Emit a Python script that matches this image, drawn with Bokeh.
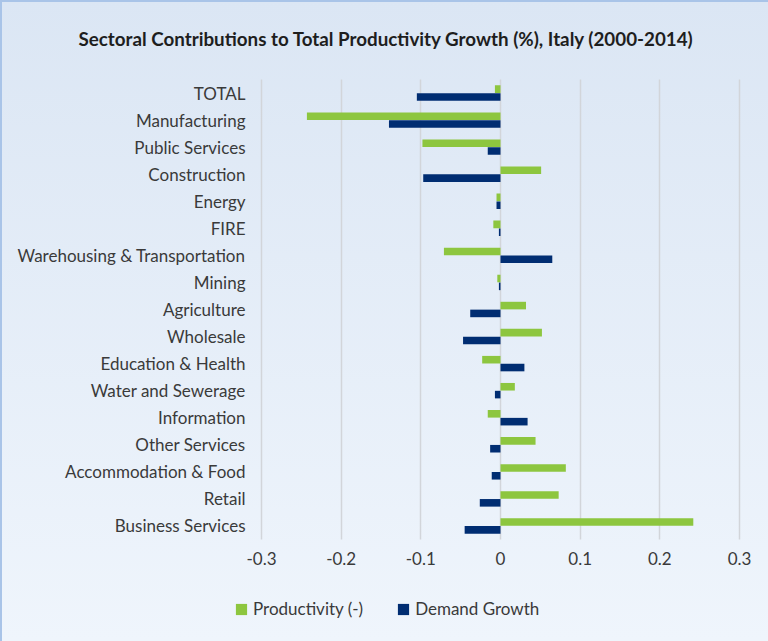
from bokeh.plotting import figure
from bokeh.models import Legend, LegendItem, FixedTicker, Label, Range1d, ColumnDataSource
from bokeh.transform import dodge
from bokeh.embed import file_html
from bokeh.resources import INLINE

title_text = "Sectoral Contributions to Total Productivity Growth (%), Italy (2000-2014)"

categories = ["TOTAL", "Manufacturing", "Public Services", "Construction", "Energy", "FIRE",
              "Warehousing & Transportation", "Mining", "Agriculture", "Wholesale",
              "Education & Health", "Water and Sewerage", "Information", "Other Services",
              "Accommodation & Food", "Retail", "Business Services"]
productivity = [-0.007, -0.243, -0.098, 0.051, -0.005, -0.009, -0.071, -0.004, 0.032, 0.052,
                -0.023, 0.018, -0.016, 0.044, 0.082, 0.073, 0.242]
demand = [-0.105, -0.140, -0.016, -0.097, -0.005, -0.002, 0.065, -0.002, -0.038, -0.047,
          0.030, -0.007, 0.034, -0.013, -0.011, -0.026, -0.045]
series_names = ["Productivity (-)", "Demand Growth"]
tick_values = [-0.3, -0.2, -0.1, 0, 0.1, 0.2, 0.3]
tick_labels = ["-0.3", "-0.2", "-0.1", "0", "0.1", "0.2", "0.3"]

GREEN = "#8DC63F"
NAVY = "#002D72"
FONT = "Lato"
TXT = "#3A3A3A"

# layout constants (pixels of the 768x641 canvas)
W, H = 768, 641
PL, PR, PT, PB = 261, 739, 79, 539          # plot-area edges
n = len(categories)
xmin, xmax = tick_values[0], tick_values[-1]
xs = (xmax - xmin) / (PR - PL)
ys = n / (PB - PT)
x_range = Range1d(xmin - PL * xs, xmax + (W - PR) * xs)
y_range = Range1d(-0.5 - (H - PB) * ys, n - 0.5 + PT * ys)

pos = [n - 1 - i for i in range(n)]
src = ColumnDataSource(dict(pos=pos, cat=categories, prod=productivity, dem=demand))

p = figure(width=W, height=H, x_range=x_range, y_range=y_range,
           output_backend="svg", toolbar_location=None, title=None, min_border=0)
p.styles = {"background": "linear-gradient(#DBE6F4, #EFF5FC)",
            "box-shadow": "inset 2px 2px 0 #A9C4E8"}
p.background_fill_alpha = 0
p.border_fill_alpha = 0
p.outline_line_color = None

r1 = p.hbar(y=dodge("pos", 0.145), right="prod", left=0, height=0.28,
            source=src, fill_color=GREEN, line_color=None)
r2 = p.hbar(y=dodge("pos", -0.145), right="dem", left=0, height=0.28,
            source=src, fill_color=NAVY, line_color=None)

p.xaxis.ticker = FixedTicker(ticks=tick_values)
p.xaxis.major_label_overrides = {v: l for v, l in zip(tick_values, tick_labels)}
p.xaxis.fixed_location = -0.5
p.yaxis.ticker = FixedTicker(ticks=pos)
p.yaxis.major_label_overrides = {pp: c for pp, c in zip(pos, categories)}
p.yaxis.fixed_location = xmin
for ax in (p.xaxis[0], p.yaxis[0]):
    ax.axis_line_color = None
    ax.major_tick_line_color = None
    ax.minor_tick_line_color = None
    ax.major_tick_out = 0
    ax.major_tick_in = 0
    ax.minor_tick_out = 0
    ax.minor_tick_in = 0
    ax.major_label_text_font = FONT
    ax.major_label_text_font_size = "17px"
    ax.major_label_text_color = TXT
p.xaxis.major_label_standoff = 12
p.yaxis.major_label_standoff = 16

g = p.xgrid[0]
g.grid_line_color = "#D2D5DA"
g.grid_line_width = 1.5
if "cross_bounds" in g.properties():
    g.cross_bounds = (-0.5, n - 0.5)
p.ygrid.grid_line_color = None

title = Label(x=78, y=H - 38, x_units="screen", y_units="screen", text=title_text,
              text_align="left", text_baseline="middle", text_font=FONT,
              text_font_size="18.8px", text_font_style="bold", text_color="#1E1E1E")
p.add_layout(title)

legend = Legend(items=[LegendItem(label=series_names[0], renderers=[r1]),
                       LegendItem(label=series_names[1], renderers=[r2])],
                orientation="horizontal", location=(234, 22),
                glyph_width=14, glyph_height=14, label_standoff=5, spacing=33,
                padding=0, margin=0, border_line_color=None, background_fill_alpha=0,
                label_text_font=FONT, label_text_font_size="17px", label_text_color=TXT,
                label_height=14)
p.add_layout(legend, "center")

open("out.html", "w").write(file_html(p, INLINE))
